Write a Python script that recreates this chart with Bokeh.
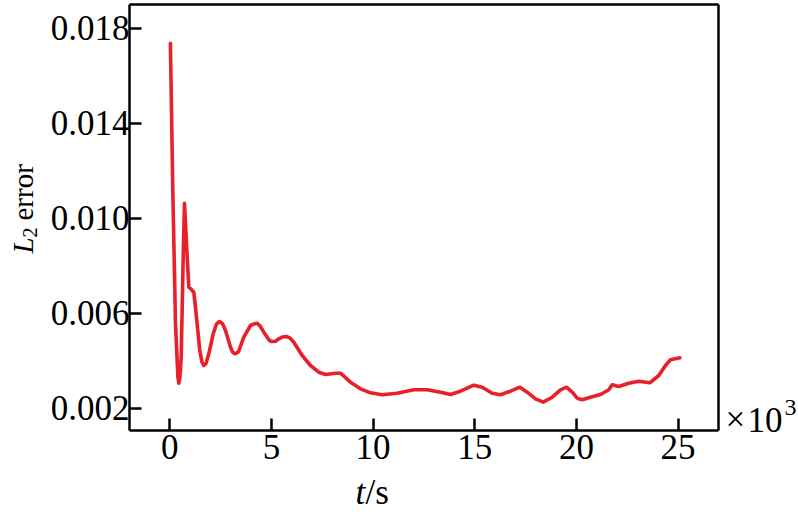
import math
from bokeh.plotting import figure
from bokeh.models import Label, FixedTicker, Range1d, NumeralTickFormatter, LinearAxis
from bokeh.embed import file_html
from bokeh.resources import INLINE

# time in units of 10^3 s
t_k = [0.03, 0.148, 0.28, 0.40, 0.443, 0.50, 0.561, 0.659, 0.723, 0.856, 0.935,
       1.018, 1.181, 1.264, 1.377, 1.476, 1.58, 1.672, 1.78, 1.918, 2.135, 2.30,
       2.445, 2.60, 2.740, 2.986, 3.10, 3.232, 3.38, 3.640, 3.969, 4.15, 4.299,
       4.45, 4.624, 4.90, 5.037, 5.20, 5.361, 5.55, 5.740, 5.92, 6.099, 6.513,
       6.921, 7.329, 7.659, 8.151, 8.397, 8.889, 9.380, 9.872, 10.448, 11.185,
       12.002, 12.661, 13.315, 13.807, 14.299, 14.953, 15.366, 15.858, 16.266,
       16.758, 17.216, 17.580, 17.988, 18.367, 18.810, 19.218, 19.513, 19.793,
       20.039, 20.285, 20.693, 21.185, 21.594, 21.761, 22.086, 22.577, 23.069,
       23.610, 24.053, 24.382, 24.628, 25.086]
l2_error = [0.01736, 0.01117, 0.005566, 0.00330, 0.003053, 0.00330, 0.004147,
            0.008358, 0.010632, 0.008358, 0.007095, 0.00704, 0.006884, 0.006253,
            0.005272, 0.004429, 0.00395, 0.003798, 0.00388, 0.004291, 0.005133,
            0.00555, 0.005651, 0.00555, 0.005272, 0.004568, 0.00435, 0.004291,
            0.00438, 0.004989, 0.005482, 0.00555, 0.005579, 0.00545, 0.0052,
            0.00485, 0.004808, 0.00482, 0.004922, 0.00500, 0.005019, 0.00495,
            0.004779, 0.004219, 0.003798, 0.003516, 0.003419, 0.003474, 0.003474,
            0.003095, 0.002817, 0.002648, 0.002564, 0.002632, 0.002775, 0.002775,
            0.002674, 0.002577, 0.002716, 0.002968, 0.002884, 0.002632, 0.002564,
            0.002716, 0.002884, 0.002674, 0.002396, 0.002253, 0.002463, 0.002775,
            0.002884, 0.002674, 0.002421, 0.002354, 0.002463, 0.002577, 0.002775,
            0.002985, 0.002914, 0.003053, 0.003137, 0.003069, 0.003377, 0.003798,
            0.004038, 0.004122]

x_ticks = [0, 5, 10, 15, 20, 25]
y_ticks = [0.002, 0.006, 0.010, 0.014, 0.018]

FONT = "Liberation Serif"
W, H = 798, 518


def px_x(ix):
    return (ix - 169.3) / 20.33


def px_y(iy):
    return 0.002 + (407.7 - iy) / 23750.0


# plot box edges (data units)
X0, X1 = px_x(129), px_x(718)
Y0, Y1 = px_y(430), px_y(4)

p = figure(width=W, height=H, output_backend="svg", toolbar_location=None,
           x_range=Range1d(px_x(0), px_x(W)), y_range=Range1d(px_y(H), px_y(0)),
           min_border_left=0, min_border_right=0, min_border_top=0,
           min_border_bottom=0)
p.outline_line_color = None
p.xgrid.visible = False
p.ygrid.visible = False

p.line(t_k, l2_error, line_color="#e8202a", line_width=3.6,
       line_join="round", line_cap="round")


def style_axis(ax, ticks, show):
    ax.axis_line_width = 2.5
    ax.axis_line_color = "black"
    ax.major_tick_in = 12 if show else 0
    ax.major_tick_out = 0
    ax.major_tick_line_width = 2.5
    ax.major_tick_line_color = "black"
    ax.minor_tick_in = 0
    ax.minor_tick_out = 0
    ax.major_label_text_font = FONT
    ax.major_label_text_font_size = "35px"
    ax.major_label_text_color = "black"
    ax.ticker = FixedTicker(ticks=ticks)
    if not show:
        ax.major_label_text_alpha = 0


xa = p.xaxis[0]
ya = p.yaxis[0]
xa.fixed_location = Y0
xa.bounds = (X0, X1)
ya.fixed_location = X0
ya.bounds = (Y0, Y1)
style_axis(xa, x_ticks, True)
style_axis(ya, y_ticks, True)
ya.formatter = NumeralTickFormatter(format="0.000")
ya.major_label_standoff = 0
xa.major_label_standoff = 4

ra = LinearAxis(fixed_location=X1, bounds=(Y0, Y1))
style_axis(ra, [], False)
p.add_layout(ra, "right")
ta = LinearAxis(fixed_location=Y1, bounds=(X0, X1))
style_axis(ta, [], False)
p.add_layout(ta, "above")


def add_label(text, ix, iy, size, style="normal", angle=0.0):
    p.add_layout(Label(x=px_x(ix), y=px_y(iy), text=text, text_font=FONT,
                       text_font_size=size, text_font_style=style,
                       text_align="left", text_baseline="alphabetic",
                       angle=angle, text_color="black"))


# x axis label: t/s
add_label("t", 355, 492, "35px", "italic")
add_label("/s", 365, 492, "35px")
# x10^3 multiplier
add_label("\u00d7", 725, 419, "35px")
add_label("10", 747, 419, "35px")
add_label("3", 784, 407, "24px")
# y axis label: L2 error (rotated)
add_label("L", 22, 253, "29px", "italic", math.pi / 2)
add_label("2", 29, 237, "20px", "normal", math.pi / 2)
add_label("error", 22, 220, "29px", "normal", math.pi / 2)

open("out.html", "w").write(file_html(p, INLINE))
